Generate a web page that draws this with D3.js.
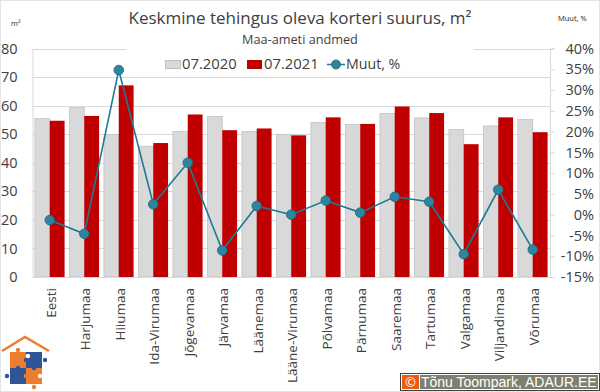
<!DOCTYPE html>
<html>
<head>
<meta charset="utf-8">
<script src="https://cdn.jsdelivr.net/npm/d3@7"></script>
<style>
  html, body { margin: 0; padding: 0; background: #fff; }
  svg { display: block; font-family: "Open Sans", sans-serif; }
</style>
</head>
<body>
<div id="chart"></div>
<script>
const categories = ["Eesti", "Harjumaa", "Hiiumaa", "Ida-Virumaa", "Jõgevamaa", "Järvamaa", "Läänemaa", "Lääne-Virumaa", "Põlvamaa", "Pärnumaa", "Saaremaa", "Tartumaa", "Valgamaa", "Viljandimaa", "Võrumaa"]
const values2020 = [55.5, 59.3, 49.9, 45.8, 50.9, 56.2, 50.9, 49.9, 54.1, 53.4, 57.2, 55.7, 51.6, 52.9, 55.1]
const values2021 = [54.7, 56.4, 67.1, 46.9, 56.9, 51.4, 52.0, 49.6, 55.9, 53.6, 59.7, 57.4, 46.5, 55.9, 50.7]
const change = [-1.3, -4.6, 34.8, 2.5, 12.5, -8.6, 2.1, 0, 3.4, 0.5, 4.3, 3.1, -9.5, 6, -8.4]
const leftTicks = [0, 10, 20, 30, 40, 50, 60, 70, 80]
const rightTicks = [-15, -10, -5, 0, 5, 10, 15, 20, 25, 30, 35, 40]

const width = 600
const height = 392
const margin = { top: 48.5, right: 50, bottom: 115, left: 32.5 }

const svg = d3.select("#chart").append("svg").attr("width", width).attr("height", height)

// Raam
svg.append("rect").attr("x", 0.5).attr("y", 0.5).attr("width", width - 1).attr("height", height - 1)
  .attr("fill", "#fff").attr("stroke", "#e4e4e4")

const x = d3.scaleBand().domain(categories).range([margin.left, width - margin.right])
const barWidth = x.bandwidth() * 0.43
const yLeft = d3.scaleLinear().domain([0, 80]).range([height - margin.bottom, margin.top])
const yRight = d3.scaleLinear().domain([-15, 40]).range([height - margin.bottom, margin.top])

// Ruudustik
svg.append("g").selectAll("line").data(leftTicks).enter().append("line")
  .attr("x1", margin.left).attr("x2", width - margin.right)
  .attr("y1", (d) => Math.round(yLeft(d)) + 0.5).attr("y2", (d) => Math.round(yLeft(d)) + 0.5)
  .attr("stroke", "#d9d9d9")

// Valge taust pealkirja all katab ülemise joone
svg.append("rect").attr("x", 126).attr("y", 40).attr("width", 348).attr("height", 20).attr("fill", "#fff")

// Tulbad
const groups = svg.append("g").selectAll("g").data(categories).enter().append("g")
groups.append("rect")
  .attr("x", (d) => x(d) + x.bandwidth() / 2 - barWidth)
  .attr("y", (d, i) => yLeft(values2020[i]))
  .attr("width", barWidth)
  .attr("height", (d, i) => yLeft(0) - yLeft(values2020[i]))
  .attr("fill", "#d9d9d9").attr("stroke", "#bfbfbf").attr("stroke-width", 0.7)
groups.append("rect")
  .attr("x", (d) => x(d) + x.bandwidth() / 2)
  .attr("y", (d, i) => yLeft(values2021[i]))
  .attr("width", barWidth)
  .attr("height", (d, i) => yLeft(0) - yLeft(values2021[i]))
  .attr("fill", "#c00000")

// Teljed
const axisLeft = svg.append("g").attr("transform", `translate(${margin.left},0)`)
  .call(d3.axisLeft(yLeft).tickValues(leftTicks).tickSize(0).tickPadding(15))
axisLeft.select(".domain").attr("stroke", "#d9d9d9")
axisLeft.selectAll("text").attr("font-size", 14.5).attr("font-family", "Open Sans").attr("fill", "#404040")

const axisRight = svg.append("g").attr("transform", `translate(${width - margin.right},0)`)
  .call(d3.axisRight(yRight).tickValues(rightTicks).tickSize(5).tickPadding(11).tickFormat((d) => d + "%"))
axisRight.select(".domain").attr("stroke", "#d9d9d9")
axisRight.selectAll("line").attr("stroke", "#d9d9d9")
axisRight.selectAll("text").attr("font-size", 14.5).attr("font-family", "Open Sans").attr("fill", "#404040")
  .attr("text-anchor", "end").attr("x", 44)

const axisBottom = svg.append("g").attr("transform", `translate(0,${height - margin.bottom})`)
  .call(d3.axisBottom(x).tickSize(0).tickPadding(0))
axisBottom.select(".domain").attr("stroke", "#d9d9d9")
axisBottom.selectAll("text")
  .attr("font-size", 13.5).attr("font-family", "Open Sans").attr("fill", "#404040")
  .attr("text-anchor", "end").attr("y", 0).attr("dy", 0)
  .attr("transform", "translate(6,11) rotate(-90)")

// Muutuse joon
const line = d3.line().x((d, i) => x(categories[i]) + x.bandwidth() / 2).y((d) => yRight(d))
svg.append("path").datum(change).attr("d", line)
  .attr("fill", "none").attr("stroke", "#1f7a94").attr("stroke-width", 1.6)
svg.append("g").selectAll("circle").data(change).enter().append("circle")
  .attr("cx", (d, i) => x(categories[i]) + x.bandwidth() / 2)
  .attr("cy", (d) => yRight(d))
  .attr("r", 4.8)
  .attr("fill", "#2e85a0").attr("stroke", "#1d6478").attr("stroke-width", 0.8)

// Pealkirjad
svg.append("text").attr("x", 300).attr("y", 24).attr("text-anchor", "middle")
  .attr("font-size", 17).attr("fill", "#404040").text("Keskmine tehingus oleva korteri suurus, m²")
svg.append("text").attr("x", 300).attr("y", 44).attr("text-anchor", "middle")
  .attr("font-size", 12.7).attr("fill", "#404040").text("Maa-ameti andmed")
svg.append("text").attr("x", 11).attr("y", 26).attr("font-size", 7.5).attr("fill", "#262626").text("m²")
svg.append("text").attr("x", 558).attr("y", 21).attr("font-size", 7.5).attr("fill", "#262626").text("Muut, %")

// Legend
const legend = svg.append("g")
legend.append("rect").attr("x", 165.5).attr("y", 60.5).attr("width", 15).attr("height", 8)
  .attr("fill", "#d9d9d9").attr("stroke", "#bfbfbf")
legend.append("text").attr("x", 182).attr("y", 69).attr("font-size", 14.8).attr("fill", "#404040").text("07.2020")
legend.append("rect").attr("x", 247).attr("y", 60).attr("width", 15).attr("height", 9).attr("fill", "#c00000")
legend.append("text").attr("x", 264).attr("y", 69).attr("font-size", 14.8).attr("fill", "#404040").text("07.2021")
legend.append("line").attr("x1", 327).attr("x2", 345).attr("y1", 64.5).attr("y2", 64.5)
  .attr("stroke", "#1f7a94").attr("stroke-width", 1.5)
legend.append("circle").attr("cx", 336).attr("cy", 64.5).attr("r", 4.5)
  .attr("fill", "#2e85a0").attr("stroke", "#1d6478").attr("stroke-width", 0.8)
legend.append("text").attr("x", 346).attr("y", 69).attr("font-size", 14.2).attr("fill", "#404040").text("Muut, %")

// Logo
const logo = svg.append("g")
logo.append("path").attr("d", "M2,351 L25,337 L49,351").attr("fill", "none").attr("stroke", "#ed7d31").attr("stroke-width", 2.5)
logo.append("rect").attr("x", 10).attr("y", 352).attr("width", 16).attr("height", 16).attr("fill", "#ed7d31")
logo.append("rect").attr("x", 26).attr("y", 352).attr("width", 16).attr("height", 16).attr("fill", "#2f5597")
logo.append("rect").attr("x", 10).attr("y", 368).attr("width", 16).attr("height", 16).attr("fill", "#2f5597")
logo.append("rect").attr("x", 26).attr("y", 368).attr("width", 16).attr("height", 16).attr("fill", "#ed7d31")
const knobs = [[18, 350, "#ed7d31"], [45, 360, "#2f5597"], [7, 376, "#2f5597"], [34, 387, "#ed7d31"], [26, 360, "#2f5597"], [18, 368, "#2f5597"], [34, 368, "#2f5597"], [26, 376, "#ed7d31"], [40, 376, "#fff"], [28, 356, "#fff"]]
logo.selectAll("circle").data(knobs).enter().append("circle")
  .attr("cx", (d) => d[0]).attr("cy", (d) => d[1]).attr("r", 2.2).attr("fill", (d) => d[2])

// Autoriõigus
svg.append("rect").attr("x", 400.5).attr("y", 373.5).attr("width", 199).attr("height", 17).attr("fill", "#fff").attr("stroke", "#404040")
svg.append("rect").attr("x", 402).attr("y", 375).attr("width", 17).attr("height", 14).attr("fill", "#ed5a12")
svg.append("rect").attr("x", 420).attr("y", 375).attr("width", 178).attr("height", 14).attr("fill", "#7f7f6f")
svg.append("text").attr("x", 410.5).attr("y", 387).attr("text-anchor", "middle").attr("font-size", 13).attr("fill", "#fff").text("©")
svg.append("text").attr("x", 421).attr("y", 387).attr("font-size", 14).attr("font-family", "Liberation Sans").attr("fill", "#fff").text("Tõnu Toompark, ADAUR.EE")
</script>
</body>
</html>
